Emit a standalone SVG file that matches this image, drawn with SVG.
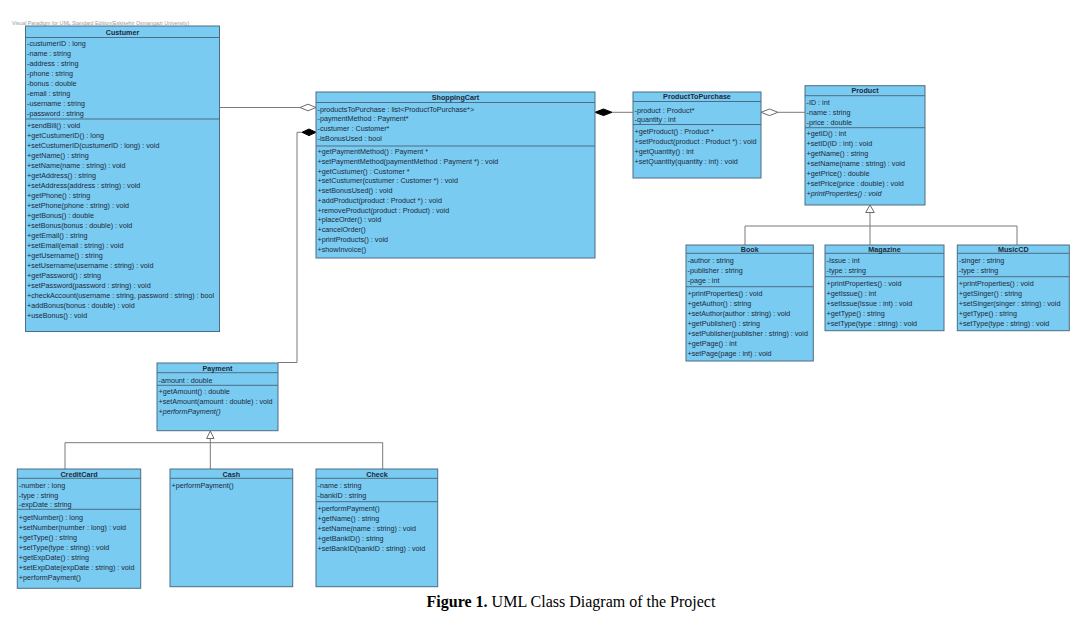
<svg xmlns="http://www.w3.org/2000/svg" width="1086" height="627" viewBox="0 0 1086 627">
<style>
.box{fill:#7acbf1;stroke:#4d6d84;stroke-width:1}
.sep{stroke:#4d6d84;stroke-width:1}
.t{font-family:"Liberation Sans",Arial,sans-serif;font-size:7.2px;fill:#1b2a3a}
.h{font-weight:bold;text-anchor:middle}
.i{font-style:italic}
.conn{stroke:#7a7a7a;stroke-width:1;fill:none}
.hollow{fill:#ffffff;stroke:#6a6a6a;stroke-width:1}
.solid{fill:#000000;stroke:#000000;stroke-width:1}
.wm{font-family:"Liberation Sans",Arial,sans-serif;font-size:5.3px;fill:#9a9a9a}
.cap{font-family:"Liberation Serif","Times New Roman",serif;font-size:16px;fill:#000;text-anchor:middle}
</style>
<rect width="1086" height="627" fill="#ffffff"/>
<text class="wm" x="12" y="24.5">Visual Paradigm for UML Standard Edition(Eskisehir Osmangazi University)</text>

<g id="connectors">
  <line class="conn" x1="219" y1="107.5" x2="300" y2="107.5"/>
  <polygon class="hollow" points="300,107.5 308,104.2 316,107.5 308,110.8"/>
  <line class="conn" x1="612" y1="112.3" x2="633" y2="112.3"/>
  <polygon class="solid" points="595,112.3 603.5,109 612,112.3 603.5,115.6"/>
  <polyline class="conn" points="302,132.3 297,132.3 297,362.5 278,362.5"/>
  <polygon class="solid" points="316,132.3 309,129 302,132.3 309,135.6"/>
  <line class="conn" x1="778" y1="112.3" x2="805" y2="112.3"/>
  <polygon class="hollow" points="761,112.3 769.5,109 778,112.3 769.5,115.6"/>
  <line class="conn" x1="870" y1="212.5" x2="870" y2="245"/>
  <polyline class="conn" points="745,245 745,226 1017,226 1017,245"/>
  <polygon class="hollow" points="870,205 874.3,212.5 865.7,212.5"/>
  <line class="conn" x1="210.3" y1="438.5" x2="210.3" y2="469"/>
  <polyline class="conn" points="65,469 65,442.7 382.7,442.7 382.7,469"/>
  <polygon class="hollow" points="210.3,431 214,438.5 206.6,438.5"/>
</g>

<g id="Custumer">
  <rect class="box" x="25.5" y="26" width="194" height="305.5"/>
  <line class="sep" x1="25.5" y1="37.5" x2="219.5" y2="37.5"/>
  <line class="sep" x1="25.5" y1="119" x2="219.5" y2="119"/>
  <text class="t h" x="122.5" y="34.5">Custumer</text>
  <text class="t" x="27" y="45.5">-custumerID : long</text>
  <text class="t" x="27" y="55.5">-name : string</text>
  <text class="t" x="27" y="65.5">-address : string</text>
  <text class="t" x="27" y="75.5">-phone : string</text>
  <text class="t" x="27" y="85.5">-bonus : double</text>
  <text class="t" x="27" y="95.5">-email : string</text>
  <text class="t" x="27" y="105.5">-username : string</text>
  <text class="t" x="27" y="115.5">-password : string</text>
  <text class="t" x="27" y="127.5">+sendBill() : void</text>
  <text class="t" x="27" y="137.5">+getCustumerID() : long</text>
  <text class="t" x="27" y="147.5">+setCustumerID(custumerID : long) : void</text>
  <text class="t" x="27" y="157.5">+getName() : string</text>
  <text class="t" x="27" y="167.5">+setName(name : string) : void</text>
  <text class="t" x="27" y="177.5">+getAddress() : string</text>
  <text class="t" x="27" y="187.5">+setAddress(address : string) : void</text>
  <text class="t" x="27" y="197.5">+getPhone() : string</text>
  <text class="t" x="27" y="207.5">+setPhone(phone : string) : void</text>
  <text class="t" x="27" y="217.5">+getBonus() : double</text>
  <text class="t" x="27" y="227.5">+setBonus(bonus : double) : void</text>
  <text class="t" x="27" y="237.5">+getEmail() : string</text>
  <text class="t" x="27" y="247.5">+setEmail(email : string) : void</text>
  <text class="t" x="27" y="257.5">+getUsername() : string</text>
  <text class="t" x="27" y="267.5">+setUsername(username : string) : void</text>
  <text class="t" x="27" y="277.5">+getPassword() : string</text>
  <text class="t" x="27" y="287.5">+setPassword(password : string) : void</text>
  <text class="t" x="27" y="297.5">+checkAccount(username : string, password : string) : bool</text>
  <text class="t" x="27" y="307.5">+addBonus(bonus : double) : void</text>
  <text class="t" x="27" y="317.5">+useBonus() : void</text>
</g>

<g id="ShoppingCart">
  <rect class="box" x="316" y="92" width="279" height="166"/>
  <line class="sep" x1="316" y1="102.5" x2="595" y2="102.5"/>
  <line class="sep" x1="316" y1="146" x2="595" y2="146"/>
  <text class="t h" x="455.5" y="100">ShoppingCart</text>
  <text class="t" x="317.5" y="111.5">-productsToPurchase : list&lt;ProductToPurchase*&gt;</text>
  <text class="t" x="317.5" y="121.2">-paymentMethod : Payment*</text>
  <text class="t" x="317.5" y="130.9">-custumer : Customer*</text>
  <text class="t" x="317.5" y="140.6">-isBonusUsed : bool</text>
  <text class="t" x="317.5" y="154.2">+getPaymentMethod() : Payment *</text>
  <text class="t" x="317.5" y="163.9">+setPaymentMethod(paymentMethod : Payment *) : void</text>
  <text class="t" x="317.5" y="173.7">+getCustumer() : Customer *</text>
  <text class="t" x="317.5" y="183.4">+setCustumer(custumer : Customer *) : void</text>
  <text class="t" x="317.5" y="193.1">+setBonusUsed() : void</text>
  <text class="t" x="317.5" y="202.9">+addProduct(product : Product *) : void</text>
  <text class="t" x="317.5" y="212.6">+removeProduct(product : Product) : void</text>
  <text class="t" x="317.5" y="222.3">+placeOrder() : void</text>
  <text class="t" x="317.5" y="232">+cancelOrder()</text>
  <text class="t" x="317.5" y="241.8">+printProducts() : void</text>
  <text class="t" x="317.5" y="251.5">+showInvoice()</text>
</g>

<g id="ProductToPurchase">
  <rect class="box" x="633" y="92" width="128" height="86"/>
  <line class="sep" x1="633" y1="101.5" x2="761" y2="101.5"/>
  <line class="sep" x1="633" y1="124.5" x2="761" y2="124.5"/>
  <text class="t h" x="697" y="99.2">ProductToPurchase</text>
  <text class="t" x="634.5" y="112.5">-product : Product*</text>
  <text class="t" x="634.5" y="121.5">-quantity : int</text>
  <text class="t" x="634.5" y="134.2">+getProduct() : Product *</text>
  <text class="t" x="634.5" y="144">+setProduct(product : Product *) : void</text>
  <text class="t" x="634.5" y="153.8">+getQuantity() : int</text>
  <text class="t" x="634.5" y="163.5">+setQuantity(quantity : int) : void</text>
</g>

<g id="Product">
  <rect class="box" x="805" y="85.7" width="120" height="119.3"/>
  <line class="sep" x1="805" y1="95.7" x2="925" y2="95.7"/>
  <line class="sep" x1="805" y1="127.7" x2="925" y2="127.7"/>
  <text class="t h" x="865" y="93.2">Product</text>
  <text class="t" x="806.5" y="104.5">-ID : int</text>
  <text class="t" x="806.5" y="114.8">-name : string</text>
  <text class="t" x="806.5" y="124.8">-price : double</text>
  <text class="t" x="806.5" y="136.2">+getID() : int</text>
  <text class="t" x="806.5" y="146.2">+setID(ID : int) : void</text>
  <text class="t" x="806.5" y="156.2">+getName() : string</text>
  <text class="t" x="806.5" y="166.2">+setName(name : string) : void</text>
  <text class="t" x="806.5" y="176.2">+getPrice() : double</text>
  <text class="t" x="806.5" y="186.2">+setPrice(price : double) : void</text>
  <text class="t i" x="806.5" y="196.2">+printProperties() : void</text>
</g>

<g id="Book">
  <rect class="box" x="686" y="245" width="127.3" height="116"/>
  <line class="sep" x1="686" y1="253.3" x2="813.3" y2="253.3"/>
  <line class="sep" x1="686" y1="286.7" x2="813.3" y2="286.7"/>
  <text class="t h" x="749.7" y="251.5">Book</text>
  <text class="t" x="687.5" y="262.5">-author : string</text>
  <text class="t" x="687.5" y="272.5">-publisher : string</text>
  <text class="t" x="687.5" y="282.5">-page : int</text>
  <text class="t" x="687.5" y="295.8">+printProperties() : void</text>
  <text class="t" x="687.5" y="305.8">+getAuthor() : string</text>
  <text class="t" x="687.5" y="315.7">+setAuthor(author : string) : void</text>
  <text class="t" x="687.5" y="325.7">+getPublisher() : string</text>
  <text class="t" x="687.5" y="335.6">+setPublisher(publisher : string) : void</text>
  <text class="t" x="687.5" y="345.6">+getPage() : int</text>
  <text class="t" x="687.5" y="355.5">+setPage(page : int) : void</text>
</g>

<g id="Magazine">
  <rect class="box" x="825" y="245" width="119" height="85.7"/>
  <line class="sep" x1="825" y1="253.3" x2="944" y2="253.3"/>
  <line class="sep" x1="825" y1="276.7" x2="944" y2="276.7"/>
  <text class="t h" x="884.5" y="251.5">Magazine</text>
  <text class="t" x="826.5" y="262.5">-Issue : int</text>
  <text class="t" x="826.5" y="272.5">-type : string</text>
  <text class="t" x="826.5" y="285.8">+printProperties() : void</text>
  <text class="t" x="826.5" y="295.7">+getIssue() : int</text>
  <text class="t" x="826.5" y="305.7">+setIssue(Issue : int) : void</text>
  <text class="t" x="826.5" y="315.6">+getType() : string</text>
  <text class="t" x="826.5" y="325.6">+setType(type : string) : void</text>
</g>

<g id="MusicCD">
  <rect class="box" x="957.3" y="245" width="112" height="85.7"/>
  <line class="sep" x1="957.3" y1="253.3" x2="1069.3" y2="253.3"/>
  <line class="sep" x1="957.3" y1="276.7" x2="1069.3" y2="276.7"/>
  <text class="t h" x="1013.3" y="251.5">MusicCD</text>
  <text class="t" x="958.8" y="262.5">-singer : string</text>
  <text class="t" x="958.8" y="272.5">-type : string</text>
  <text class="t" x="958.8" y="285.8">+printProperties() : void</text>
  <text class="t" x="958.8" y="295.7">+getSinger() : string</text>
  <text class="t" x="958.8" y="305.7">+setSinger(singer : string) : void</text>
  <text class="t" x="958.8" y="315.6">+getType() : string</text>
  <text class="t" x="958.8" y="325.6">+setType(type : string) : void</text>
</g>

<g id="Payment">
  <rect class="box" x="157" y="363" width="121" height="67.7"/>
  <line class="sep" x1="157" y1="372.7" x2="278" y2="372.7"/>
  <line class="sep" x1="157" y1="385.3" x2="278" y2="385.3"/>
  <text class="t h" x="217.5" y="370.8">Payment</text>
  <text class="t" x="158.5" y="382.5">-amount : double</text>
  <text class="t" x="158.5" y="394.2">+getAmount() : double</text>
  <text class="t" x="158.5" y="404.2">+setAmount(amount : double) : void</text>
  <text class="t i" x="158.5" y="413.8">+performPayment()</text>
</g>

<g id="CreditCard">
  <rect class="box" x="17.3" y="469" width="123.4" height="119.3"/>
  <line class="sep" x1="17.3" y1="478.3" x2="140.7" y2="478.3"/>
  <line class="sep" x1="17.3" y1="509.3" x2="140.7" y2="509.3"/>
  <text class="t h" x="79" y="476.5">CreditCard</text>
  <text class="t" x="18.8" y="487.5">-number : long</text>
  <text class="t" x="18.8" y="497.5">-type : string</text>
  <text class="t" x="18.8" y="507.2">-expDate : string</text>
  <text class="t" x="18.8" y="520.2">+getNumber() : long</text>
  <text class="t" x="18.8" y="530.1">+setNumber(number : long) : void</text>
  <text class="t" x="18.8" y="540.1">+getType() : string</text>
  <text class="t" x="18.8" y="550">+setType(type : string) : void</text>
  <text class="t" x="18.8" y="559.9">+getExpDate() : string</text>
  <text class="t" x="18.8" y="569.9">+setExpDate(expDate : string) : void</text>
  <text class="t" x="18.8" y="579.8">+performPayment()</text>
</g>

<g id="Cash">
  <rect class="box" x="170" y="469" width="122.7" height="117.7"/>
  <line class="sep" x1="170" y1="478.3" x2="292.7" y2="478.3"/>
  <text class="t h" x="231.3" y="476.5">Cash</text>
  <text class="t" x="171.5" y="487.5">+performPayment()</text>
</g>

<g id="Check">
  <rect class="box" x="316" y="469" width="121.7" height="117.7"/>
  <line class="sep" x1="316" y1="478.3" x2="437.7" y2="478.3"/>
  <line class="sep" x1="316" y1="501.7" x2="437.7" y2="501.7"/>
  <text class="t h" x="377" y="476.5">Check</text>
  <text class="t" x="317.5" y="487.5">-name : string</text>
  <text class="t" x="317.5" y="497.5">-bankID : string</text>
  <text class="t" x="317.5" y="510.8">+performPayment()</text>
  <text class="t" x="317.5" y="520.7">+getName() : string</text>
  <text class="t" x="317.5" y="530.7">+setName(name : string) : void</text>
  <text class="t" x="317.5" y="540.6">+getBankID() : string</text>
  <text class="t" x="317.5" y="550.6">+setBankID(bankID : string) : void</text>
</g>

<text class="cap" x="571" y="607"><tspan font-weight="bold">Figure 1.</tspan> UML Class Diagram of the Project</text>
</svg>
